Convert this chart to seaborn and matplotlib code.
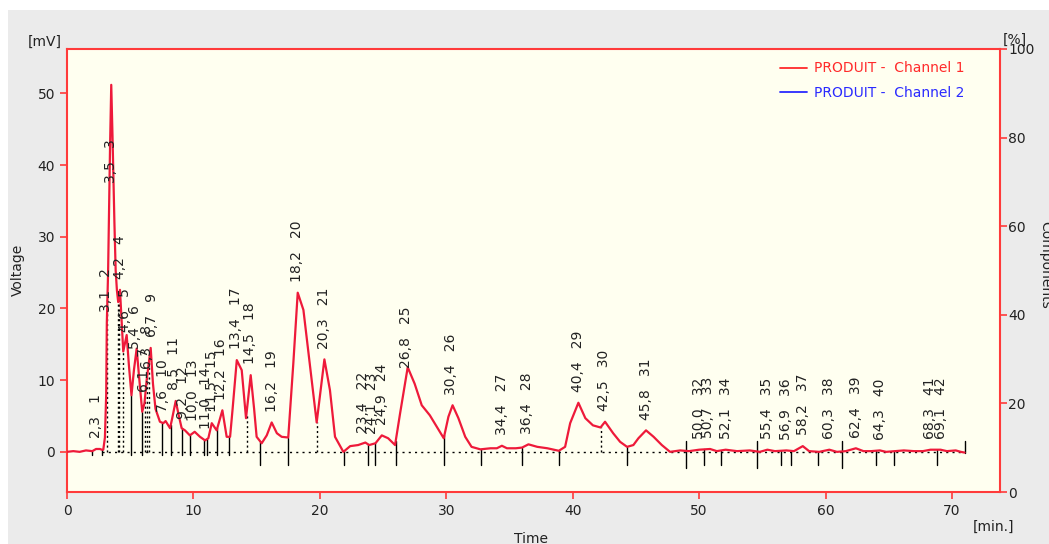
import numpy as np
import pandas as pd
import matplotlib
matplotlib.use("Agg")
import matplotlib.pyplot as plt
from matplotlib.lines import Line2D
from matplotlib.patches import Rectangle
import seaborn as sns

# ---- data ----
trace_time = [0.0, 0.5, 1.0, 1.5, 2.0, 2.3, 2.6, 2.75, 2.87, 3.0, 3.1, 3.15, 3.25, 3.4, 3.5,
              3.6, 3.75, 3.85, 3.95, 4.05, 4.19, 4.3, 4.45, 4.72, 4.9, 5.1, 5.3, 5.51, 5.7,
              5.95, 6.13, 6.3, 6.62, 6.8, 7.0, 7.35, 7.62, 7.8, 8.15, 8.3, 8.6, 8.85, 9.07,
              9.33, 9.72, 10.1, 10.52, 10.92, 11.18, 11.45, 11.84, 12.29, 12.63, 12.9, 13.1,
              13.43, 13.82, 14.16, 14.53, 14.8, 15.0, 15.4, 15.8, 16.19, 16.6, 16.98, 17.5,
              17.9, 18.25, 18.7, 19.2, 19.75, 20.36, 20.8, 21.2, 21.86, 22.4, 23.03, 23.6,
              23.9, 24.4, 24.9, 25.4, 25.95, 26.35, 26.95, 27.5, 28.06, 28.7, 29.25, 29.8,
              30.17, 30.5, 30.96, 31.5, 32.0, 32.7, 33.5, 34.0, 34.4, 34.8, 35.5, 36.0, 36.5,
              37.2, 38.0, 38.9, 39.4, 39.8, 40.45, 41.0, 41.6, 42.2, 42.56, 43.2, 43.75, 44.3,
              44.8, 45.2, 45.8, 46.4, 47.05, 47.7, 48.5, 49.2, 50.0, 50.87, 51.4, 52.1, 53.0,
              54.0, 54.8, 55.4, 56.0, 56.9, 57.5, 58.2, 58.7, 59.5, 60.3, 60.9, 61.6, 62.4,
              63.0, 63.6, 64.3, 64.8, 65.5, 66.2, 67.0, 67.7, 68.3, 69.1, 69.6, 70.3, 70.7, 71.0]
trace_mv = [0.0, 0.1, 0.0, 0.2, 0.1, 0.4, 0.4, 0.3, 0.3, 2.0, 8.0, 18.0, 25.0, 42.0, 51.2,
            44.0, 32.0, 25.3, 22.5, 20.9, 22.6, 19.0, 14.0, 16.3, 12.0, 7.9, 11.5, 14.4, 10.5,
            5.6, 6.8, 10.0, 14.5, 9.5, 6.0, 4.2, 4.0, 4.3, 3.3, 4.5, 7.1, 5.0, 3.3,
            3.0, 2.3, 2.8, 2.1, 1.6, 1.9, 4.0, 3.0, 5.8, 2.1, 2.1, 6.0,
            12.8, 11.4, 4.7, 10.7, 6.0, 2.1, 1.2, 2.3, 4.1, 2.6, 2.1, 2.0,
            12.3, 22.2, 19.8, 12.3, 4.1, 12.9, 8.6, 2.1, 0.0, 0.8, 0.95, 1.3,
            0.95, 1.2, 2.3, 1.9, 0.95, 5.4, 11.8, 9.5, 6.5, 5.1, 3.5, 1.9,
            4.9, 6.5, 4.7, 2.1, 0.7, 0.35, 0.5, 0.5, 0.85, 0.5, 0.5, 0.6, 1.05,
            0.7, 0.5, 0.15, 0.7, 4.0, 6.85, 4.7, 3.7, 3.4, 4.2, 2.6, 1.4, 0.7,
            0.95, 1.9, 3.0, 2.1, 0.95, 0.0, 0.2, 0.1, 0.3, 0.4, 0.1, 0.3, 0.1,
            0.2, 0.0, 0.3, 0.1, 0.2, 0.1, 0.8, 0.1, 0.0, 0.3, 0.0, 0.1, 0.5,
            0.1, 0.1, 0.2, 0.0, 0.1, 0.2, 0.1, 0.1, 0.3, 0.3, 0.1, 0.2, 0.0, -0.1]

peak_numbers = list(range(1, 43))
peak_times = [2.3, 3.1, 3.5, 4.2, 4.6, 5.4, 6.1, 6.3, 6.7, 7.6, 8.5, 9.2, 10.0, 11.0, 11.5,
              12.2, 13.4, 14.5, 16.2, 18.2, 20.3, 23.4, 24.1, 24.9, 26.8, 30.4, 34.4, 36.4,
              40.4, 42.5, 45.8, 50.0, 50.7, 52.1, 55.4, 56.9, 58.2, 60.3, 62.4, 64.3, 68.3, 69.1]

boundary_times = [2.0, 2.74, 5.1, 5.95, 7.5, 8.2, 9.1, 9.7, 10.84, 11.1, 11.9, 12.8, 15.3,
                  17.5, 21.9, 23.8, 24.4, 26.0, 29.85, 32.75, 36.0, 38.9, 44.3, 50.35, 51.7,
                  56.5, 57.25, 59.4, 64.0, 65.4, 68.8]
tall_boundary_times = [49.0, 54.6, 61.3, 71.0]
split_times = [3.2, 4.0, 4.14, 4.46, 6.2, 6.36, 6.5, 14.2, 19.75, 42.2]

x_ticks = [0, 10, 20, 30, 40, 50, 60, 70]
y_ticks = [0, 10, 20, 30, 40, 50]
pct_ticks = [0, 20, 40, 60, 80, 100]
legend_labels = ["PRODUIT -  Channel 1", "PRODUIT -  Channel 2"]

# ---- figure ----
sns.set_style("ticks")
plt.rcParams['font.family'] = ['DejaVu Sans']

W, H = 1049, 544
fig = plt.figure(figsize=(W / 100, H / 100), dpi=100)
fig.patch.set_facecolor("white")
fig.patches.append(Rectangle((8 / W, 0), 1, 1 - 10 / H, transform=fig.transFigure,
                             facecolor="#ebebeb", edgecolor="none", zorder=-10))

ax = fig.add_axes([67 / W, 1 - 492 / H, (1000 - 67) / W, (492 - 49) / H])
ax.set_facecolor("#fffff0")

red = "#ee1a3a"
frame_red = "#ff3a3a"

df = pd.DataFrame({"time": trace_time, "mv": trace_mv})
t_arr = np.array(trace_time)
v_arr = np.array(trace_mv)

def curve_at(t):
    return float(np.interp(t, t_arr, v_arr))

# dotted baseline
ax.plot([2.74, 71.0], [0, 0], color="black", lw=1.0, ls=(0, (1.5, 3)), zorder=2)

# boundary markers
for bt in boundary_times:
    lo = -0.4 if bt < 15 else -1.8
    ax.plot([bt, bt], [lo, curve_at(bt)], color="black", lw=1.0, zorder=2)
for bt in tall_boundary_times:
    lo = -0.2 if bt > 70 else -2.3
    ax.plot([bt, bt], [lo, 1.5], color="black", lw=1.0, zorder=2)
for st in split_times:
    ax.plot([st, st], [0, curve_at(st)], color="black", lw=1.0, ls=(0, (1.5, 2)), zorder=2)

sns.lineplot(data=df, x="time", y="mv", ax=ax, color=red, lw=1.6, estimator=None,
             sort=False, zorder=3)

# peak labels
for num, pt in zip(peak_numbers, peak_times):
    win = (t_arr >= pt - 0.1) & (t_arr <= pt + 0.1)
    top = max(curve_at(pt), v_arr[win].max() if win.any() else -99)
    y = min(max(top, 0.2) + 1.5, 37.5)
    txt = f"{pt:.1f}".replace(".", ",") + "   " + str(num)
    ax.text(pt, y, txt, rotation=90, ha="center", va="bottom", fontsize=10,
            color="#222222", zorder=4)

ax.set_xlim(0, 73.8)
ax.set_ylim(-5.6, 56.2)
ax.set_xticks(x_ticks)
ax.set_yticks(y_ticks)
ax.set_xlabel("")
ax.set_ylabel("")
for s in ax.spines.values():
    s.set_color(frame_red)
    s.set_linewidth(1.5)
ax.tick_params(axis="both", colors=frame_red, labelcolor="#222222", labelsize=10,
               length=5, width=1.2, direction="out")

ax2 = ax.twinx()
ax2.set_ylim(0, 100)
ax2.set_yticks(pct_ticks)
for s in ax2.spines.values():
    s.set_visible(False)
ax2.tick_params(axis="y", colors=frame_red, labelcolor="#222222", labelsize=10,
                length=5, width=1.2, direction="out", pad=1)

handles = [Line2D([], [], color="#ff2a2a", lw=1.3), Line2D([], [], color="#2a2aff", lw=1.3)]
leg = ax.legend(handles, legend_labels, loc="upper right", bbox_to_anchor=(0.975, 1.0),
                frameon=False, handlelength=1.9, handletextpad=0.5, labelspacing=0.75,
                fontsize=10, labelcolor=["#ff2a2a", "#2a2aff"])
leg.set_zorder(5)

fig.text(45 / W, 1 - 42 / H, "[mV]", ha="center", va="center", fontsize=10, color="#222222")
fig.text(18 / W, 1 - 270 / H, "Voltage", ha="center", va="center", rotation=90,
         fontsize=10, color="#222222")
fig.text(531 / W, 1 - 539 / H, "Time", ha="center", va="center", fontsize=10, color="#222222")
fig.text(993 / W, 1 - 527 / H, "[min.]", ha="center", va="center", fontsize=10, color="#222222")
fig.text(1015 / W, 1 - 40 / H, "[%]", ha="center", va="center", fontsize=10, color="#222222")
fig.text(1045 / W, 1 - 265 / H, "Components", ha="center", va="center", rotation=-90,
         fontsize=10, color="#222222")

fig.savefig("out.png", dpi=100, facecolor=fig.get_facecolor())
